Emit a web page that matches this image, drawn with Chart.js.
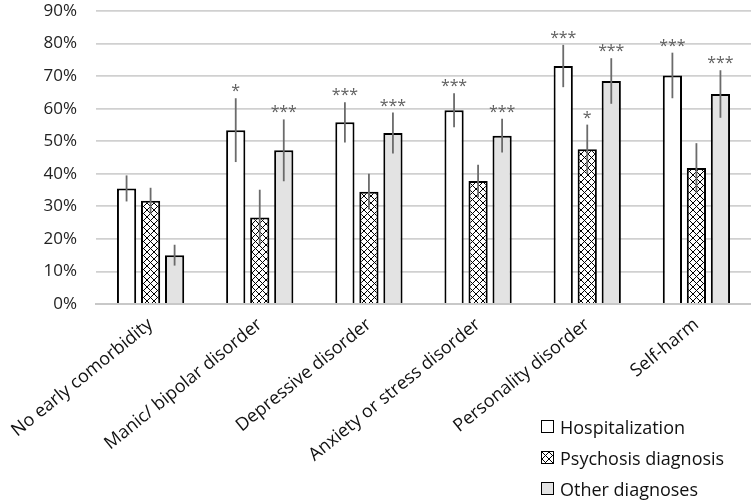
<!DOCTYPE html>
<html>
<head>
<meta charset="utf-8">
<script src="https://cdn.jsdelivr.net/npm/chart.js@4"></script>
<style>
 body{margin:0;background:#fff;font-family:"Open Sans",sans-serif;}
 #wrap{position:relative;width:751px;height:502px;}
 #legend{position:absolute;left:541px;top:411px;font-size:18px;color:#111;}
 #legend div{display:flex;align-items:center;height:31px;}
 #legend span.box{display:inline-block;width:11px;height:11px;border:1.5px solid #000;margin-right:6px;}
</style>
</head>
<body>
<div id="wrap">
 <canvas id="chart" width="751" height="502"></canvas>
 <div id="legend"></div>
</div>
<script>
/* ---------- DATA ---------- */
let categories=["No early comorbidity","Manic/ bipolar disorder","Depressive disorder","Anxiety or stress disorder","Personality disorder","Self-harm"];
let seriesNames=["Hospitalization","Psychosis diagnosis","Other diagnoses"];
let hospitalization=[35.5,53.4,55.8,59.5,73.1,70.2];
let hospErr=[4,9.8,6.2,5.2,6.5,7];
let hospStars=["","*","***","***","***","***"];
let psychosis=[31.7,26.6,34.5,37.8,47.5,41.8];
let psychErr=[4,8.5,5.5,5,7.6,7.6];
let psychStars=["","","","","*",""];
let other=[15,47.2,52.5,51.7,68.5,64.5];
let otherErr=[3.2,9.5,6.3,5.2,7,7.3];
let otherStars=["","***","***","***","***","***"];
let yTicks=[0,10,20,30,40,50,60,70,80,90];

/* ---------- HATCH ---------- */
function makeHatch(s){
 let c=document.createElement("canvas");c.width=s;c.height=s;
 let g=c.getContext("2d");
 g.fillStyle="#fff";g.fillRect(0,0,s,s);
 g.strokeStyle="#000";g.lineWidth=1;
 g.beginPath();g.moveTo(0,0);g.lineTo(s,s);g.moveTo(0,s);g.lineTo(s,0);g.stroke();
 return c;
}
let hatchCanvas=makeHatch(7);
let ctx=document.getElementById("chart").getContext("2d");
let hatch=ctx.createPattern(hatchCanvas,"repeat");

let fills=["#ffffff",hatch,"#e3e3e3"];
let errs=[hospErr,psychErr,otherErr];
let stars=[hospStars,psychStars,otherStars];

/* ---------- ERROR BARS + STARS ---------- */
const errorBars={
 id:"errorBars",
 afterDatasetsDraw(chart){
  let c=chart.ctx, ys=chart.scales.y;
  chart.data.datasets.forEach((ds,di)=>{
   let meta=chart.getDatasetMeta(di);
   meta.data.forEach((el,i)=>{
    let v=ds.data[i], e=errs[di][i];
    let top=ys.getPixelForValue(v+e), bot=ys.getPixelForValue(v-e);
    c.save();
    c.strokeStyle="#6b6b6b";c.lineWidth=1.8;
    c.beginPath();c.moveTo(el.x,top);c.lineTo(el.x,bot);c.stroke();
    let s=stars[di][i];
    if(s){
     c.fillStyle="#606060";c.font="16px 'Open Sans'";
     c.textAlign="center";c.textBaseline="alphabetic";
     let n=s.length;
     for(let k=0;k<n;k++) c.fillText("*",el.x+(k-(n-1)/2)*8.7,top-2);
    }
    c.restore();
   });
  });
 }
};

/* ---------- CHART ---------- */
new Chart(ctx,{
 type:"bar",
 data:{
  labels:categories,
  datasets:[hospitalization,psychosis,other].map((d,i)=>({
   label:seriesNames[i],
   data:d,
   backgroundColor:fills[i],
   borderColor:"#000",
   borderWidth:2,
   categoryPercentage:0.66,
   barPercentage:0.8
  }))
 },
 options:{
  responsive:false,
  animation:false,
  layout:{padding:{top:11,right:0,bottom:0,left:0}},
  plugins:{legend:{display:false},tooltip:{enabled:false}},
  scales:{
   x:{
    grid:{display:false},
    border:{color:"#c8c8c8",width:2},
    ticks:{minRotation:39,maxRotation:39,color:"#111",font:{family:"Open Sans",size:18},padding:2},
    afterFit(s){s.height=198;s.paddingTop=0;s.paddingBottom=0;}
   },
   y:{
    min:0,max:90,
    afterBuildTicks(s){s.ticks=yTicks.map(v=>({value:v}));},
    grid:{color:"#d0d0d0",lineWidth:1.8,drawTicks:false},
    border:{display:false},
    ticks:{color:"#222",font:{family:"Open Sans",size:17},padding:19,callback:v=>v+"%"},
    afterFit(s){s.width=96;s.paddingTop=0;s.paddingBottom=0;}
   }
  }
 },
 plugins:[errorBars]
});

/* ---------- LEGEND ---------- */
let legend=document.getElementById("legend");
seriesNames.forEach((n,i)=>{
 let bg=i==1?"url("+hatchCanvas.toDataURL()+")":fills[i];
 legend.innerHTML+=`<div><span class="box" style="background:${bg}"></span>${n}</div>`;
});
</script>
</body>
</html>
